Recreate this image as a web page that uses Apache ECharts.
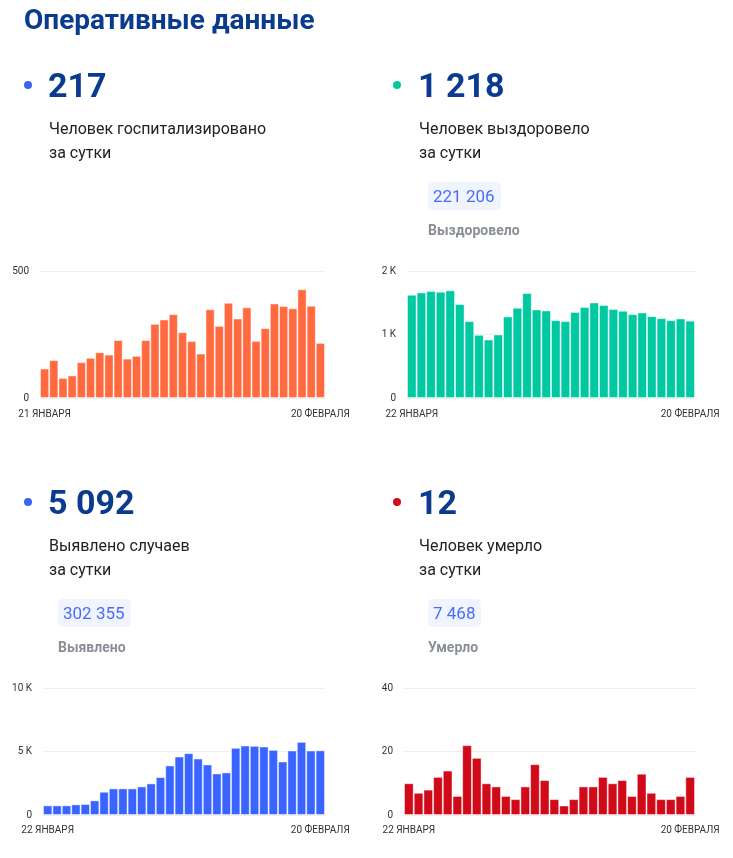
<!DOCTYPE html>
<html>
<head>
<meta charset="utf-8">
<script src="https://cdn.jsdelivr.net/npm/echarts@6/dist/echarts.min.js"></script>
<style>
  html, body { margin: 0; padding: 0; background: #fff; }
  body { width: 733px; height: 858px; position: relative; overflow: hidden; font-family: Roboto, "Noto Sans", sans-serif; }
  #chart { position: absolute; left: 0; top: 0; width: 733px; height: 858px; }
  .t { position: absolute; white-space: nowrap; }
  .title { left: 24px; top: 6px; font-size: 28px; line-height: 28px; font-weight: 700; color: #0b3b8f; }
  .num { font-size: 34px; line-height: 34px; font-weight: 700; color: #0b3b8f; }
  .desc { font-size: 16px; line-height: 24px; color: #222; }
  .dot { position: absolute; width: 8px; height: 8px; border-radius: 50%; }
  .badge { position: absolute; height: 28px; line-height: 28px; padding: 0 6px 0 5px; background: #eff4ff; border-radius: 5px; color: #4a6cf7; font-size: 17px; }
  .lbl { font-size: 14px; line-height: 16px; font-weight: 700; color: #8a8e96; }
</style>
</head>
<body>
<div id="chart"></div>
<div class="t title">Оперативные данные</div>

<div class="dot" style="left:24px;top:81px;background:#3d63f5"></div>
<div class="t num" style="left:48px;top:68px">217</div>
<div class="t desc" style="left:49px;top:117px">Человек госпитализировано<br>за сутки</div>

<div class="dot" style="left:393px;top:81px;background:#00c9a0"></div>
<div class="t num" style="left:418px;top:68px">1 218</div>
<div class="t desc" style="left:419px;top:117px">Человек выздоровело<br>за сутки</div>
<div class="badge" style="left:428px;top:182px">221 206</div>
<div class="t lbl" style="left:428px;top:222px">Выздоровело</div>

<div class="dot" style="left:24px;top:498px;background:#3d63f5"></div>
<div class="t num" style="left:48px;top:485px">5 092</div>
<div class="t desc" style="left:49px;top:534px">Выявлено случаев<br>за сутки</div>
<div class="badge" style="left:58px;top:599px">302 355</div>
<div class="t lbl" style="left:58px;top:639px">Выявлено</div>

<div class="dot" style="left:393px;top:498px;background:#d10a1c"></div>
<div class="t num" style="left:418px;top:485px">12</div>
<div class="t desc" style="left:419px;top:534px">Человек умерло<br>за сутки</div>
<div class="badge" style="left:428px;top:599px">7 468</div>
<div class="t lbl" style="left:428px;top:639px">Умерло</div>

<script>
const hospDates = ["21 ЯНВАРЯ","22 ЯНВАРЯ","23 ЯНВАРЯ","24 ЯНВАРЯ","25 ЯНВАРЯ","26 ЯНВАРЯ","27 ЯНВАРЯ","28 ЯНВАРЯ","29 ЯНВАРЯ","30 ЯНВАРЯ","31 ЯНВАРЯ",
  "1 ФЕВРАЛЯ","2 ФЕВРАЛЯ","3 ФЕВРАЛЯ","4 ФЕВРАЛЯ","5 ФЕВРАЛЯ","6 ФЕВРАЛЯ","7 ФЕВРАЛЯ","8 ФЕВРАЛЯ","9 ФЕВРАЛЯ","10 ФЕВРАЛЯ",
  "11 ФЕВРАЛЯ","12 ФЕВРАЛЯ","13 ФЕВРАЛЯ","14 ФЕВРАЛЯ","15 ФЕВРАЛЯ","16 ФЕВРАЛЯ","17 ФЕВРАЛЯ","18 ФЕВРАЛЯ","19 ФЕВРАЛЯ","20 ФЕВРАЛЯ"];
const dates = ["22 ЯНВАРЯ","23 ЯНВАРЯ","24 ЯНВАРЯ","25 ЯНВАРЯ","26 ЯНВАРЯ","27 ЯНВАРЯ","28 ЯНВАРЯ","29 ЯНВАРЯ","30 ЯНВАРЯ","31 ЯНВАРЯ",
  "1 ФЕВРАЛЯ","2 ФЕВРАЛЯ","3 ФЕВРАЛЯ","4 ФЕВРАЛЯ","5 ФЕВРАЛЯ","6 ФЕВРАЛЯ","7 ФЕВРАЛЯ","8 ФЕВРАЛЯ","9 ФЕВРАЛЯ","10 ФЕВРАЛЯ",
  "11 ФЕВРАЛЯ","12 ФЕВРАЛЯ","13 ФЕВРАЛЯ","14 ФЕВРАЛЯ","15 ФЕВРАЛЯ","16 ФЕВРАЛЯ","17 ФЕВРАЛЯ","18 ФЕВРАЛЯ","19 ФЕВРАЛЯ","20 ФЕВРАЛЯ"];

const hospValues = [116,149,79,89,141,158,180,171,228,155,166,228,292,309,330,259,224,175,349,284,375,313,357,225,275,372,362,353,428,363,217];
const recValues = [1626,1663,1684,1674,1695,1479,1211,995,921,1000,1284,1421,1653,1395,1379,1226,1211,1353,1432,1505,1463,1400,1374,1321,1347,1289,1258,1226,1253,1218];
const caseValues = [759,759,759,838,864,1152,1832,2094,2094,2094,2251,2487,2984,3901,4607,4869,4450,3979,3272,3351,5288,5471,5445,5393,5131,4215,5079,5759,5079,5092];
const deathValues = [10,7,8,12,14,6,22,18,10,9,6,5,9,16,11,5,3,5,9,9,12,10,11,6,13,7,5,5,6,12];

const hospTicks = { max: 500, interval: 500 };
const recTicks = { max: 2000, interval: 1000 };
const caseTicks = { max: 10000, interval: 5000 };
const deathTicks = { max: 40, interval: 20 };

const kFmt = v => v >= 1000 ? (v / 1000) + ' K' : String(v);
const rawFmt = v => String(v);

const panels = [
  { cats: hospDates, vals: hospValues, ticks: hospTicks, fmt: rawFmt, color: '#ff6a40', grid: { left: 40, right: 408, top: 271, bottom: 460 }, lm: 11 },
  { cats: dates, vals: recValues, ticks: recTicks, fmt: kFmt, color: '#00c8a0', grid: { left: 407, right: 38, top: 271, bottom: 460 }, lm: 11 },
  { cats: dates, vals: caseValues, ticks: caseTicks, fmt: kFmt, color: '#3a64ff', grid: { left: 43, right: 408, top: 688, bottom: 43 }, lm: 10 },
  { cats: dates, vals: deathValues, ticks: deathTicks, fmt: rawFmt, color: '#d00a18', grid: { left: 404, right: 38, top: 688, bottom: 43 }, lm: 10 }
];

const chart = echarts.init(document.getElementById('chart'));
const option = {
  animation: false,
  grid: panels.map(p => Object.assign({ containLabel: false }, p.grid)),
  xAxis: panels.map((p, i) => ({
    type: 'category', gridIndex: i, data: p.cats, boundaryGap: true,
    axisTick: { show: false },
    axisLine: { show: true, lineStyle: { color: '#eeeeee' } },
    axisLabel: {
      interval: (idx) => idx === 0 || idx === p.cats.length - 1,
      margin: p.lm, fontSize: 10, color: '#333', fontFamily: 'Roboto',
      hideOverlap: false
    }
  })),
  yAxis: panels.map((p, i) => ({
    type: 'value', gridIndex: i, min: 0, max: p.ticks.max, interval: p.ticks.interval,
    axisLine: { show: false }, axisTick: { show: false },
    splitLine: { lineStyle: { color: '#eeeeee' } },
    axisLabel: { formatter: p.fmt, margin: 11, fontSize: 10, color: '#333', fontFamily: 'Roboto' }
  })),
  series: panels.map((p, i) => ({
    type: 'bar', xAxisIndex: i, yAxisIndex: i, data: p.vals,
    barCategoryGap: '0%',
    itemStyle: { color: p.color, borderColor: 'rgba(255,255,255,0.45)', borderWidth: 1 }
  }))
};
chart.setOption(option);
</script>
</body>
</html>
